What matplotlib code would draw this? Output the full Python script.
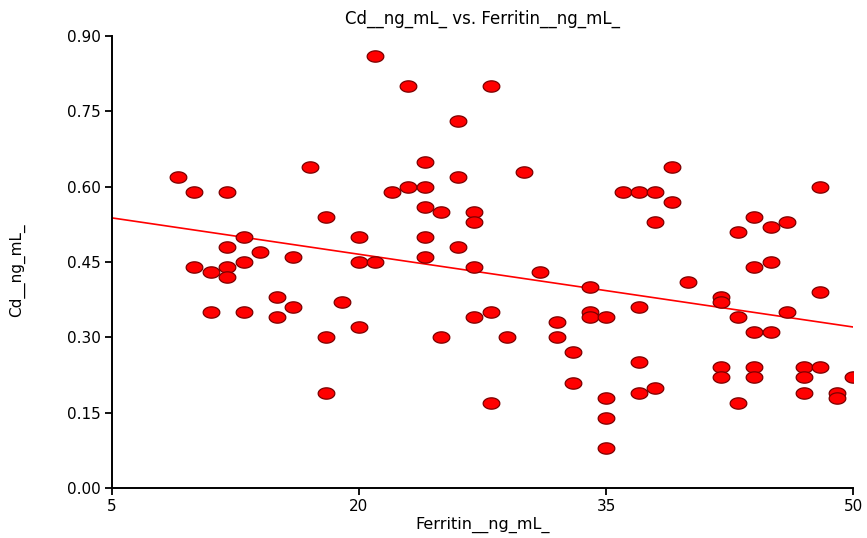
import matplotlib
matplotlib.use("Agg")
import matplotlib.pyplot as plt
import numpy as np

# Ferritin (ng/mL) vs Cd (ng/mL) readings.
ferritin = [
    9, 10, 12, 17, 18, 10, 11, 12, 12, 12, 13, 13, 14, 11, 13, 15, 15, 16, 16,
    18, 18, 19, 20, 20, 20, 21, 21, 22, 23, 23, 24, 24, 24, 24, 24, 25, 25,
    26, 26, 26, 27, 27, 27, 27, 28, 28, 28, 29, 30, 31, 32, 32, 33, 33, 34,
    34, 34, 35, 35, 35, 35, 36, 37, 37, 37, 37, 38, 38, 38, 39, 39, 40, 42,
    42, 42, 42, 43, 43, 43, 44, 44, 44, 44, 44, 45, 45, 45, 46, 46, 47, 47,
    47, 48, 48, 48, 49, 49, 50,
]
cd = [
    0.62, 0.59, 0.59, 0.64, 0.54, 0.44, 0.43, 0.48, 0.44, 0.42, 0.50, 0.45,
    0.47, 0.35, 0.35, 0.38, 0.34, 0.46, 0.36, 0.30, 0.19, 0.37, 0.50, 0.45,
    0.32, 0.86, 0.45, 0.59, 0.80, 0.60, 0.65, 0.60, 0.56, 0.50, 0.46, 0.55,
    0.30, 0.73, 0.62, 0.48, 0.55, 0.53, 0.44, 0.34, 0.80, 0.35, 0.17, 0.30,
    0.63, 0.43, 0.33, 0.30, 0.27, 0.21, 0.40, 0.35, 0.34, 0.34, 0.18, 0.14,
    0.08, 0.59, 0.59, 0.36, 0.25, 0.19, 0.59, 0.53, 0.20, 0.64, 0.57, 0.41,
    0.38, 0.37, 0.24, 0.22, 0.51, 0.34, 0.17, 0.54, 0.44, 0.31, 0.24, 0.22,
    0.52, 0.45, 0.31, 0.53, 0.35, 0.24, 0.22, 0.19, 0.60, 0.39, 0.24, 0.19,
    0.18, 0.22,
]
x_ticks = [5, 20, 35, 50]
y_ticks = [0.00, 0.15, 0.30, 0.45, 0.60, 0.75, 0.90]

plt.rcParams["font.family"] = ["DejaVu Sans"]

fig = plt.figure(figsize=(8.67, 5.38), dpi=100)
ax = fig.add_axes([0.129, 0.093, 0.855, 0.840])

# ellipse-shaped marker, wider than tall
t = np.linspace(0, 2 * np.pi, 60)
ellipse = list(zip(np.cos(t), 0.68 * np.sin(t)))

ax.plot(ferritin, cd, linestyle="none", marker=ellipse, markersize=12,
        markerfacecolor="#ff0000", markeredgecolor="#7a0000",
        markeredgewidth=0.9, zorder=3)

# least-squares fit line across the full x range
slope, intercept = np.polyfit(ferritin, cd, 1)
xs = np.array([x_ticks[0], x_ticks[-1]])
ax.plot(xs, slope * xs + intercept, color="#ff0000", linewidth=1.2, zorder=2)

ax.set_xlim(x_ticks[0], x_ticks[-1])
ax.set_ylim(y_ticks[0], y_ticks[-1])
ax.set_xticks(x_ticks)
ax.set_yticks(y_ticks)
ax.set_yticklabels([f"{v:.2f}" for v in y_ticks])
ax.tick_params(direction="out", length=5, width=1.3, labelsize=11,
               colors="black", pad=3)

for side in ("top", "right"):
    ax.spines[side].set_visible(False)
for side in ("left", "bottom"):
    ax.spines[side].set_linewidth(1.4)

ax.set_title("Cd__ng_mL_ vs. Ferritin__ng_mL_", fontsize=12, pad=9)
ax.set_xlabel("Ferritin__ng_mL_", fontsize=11.5)
ax.xaxis.set_label_coords(0.5, -0.064)
ax.set_ylabel("Cd__ng_mL_", fontsize=11)
ax.yaxis.set_label_coords(-0.117, 0.482)

fig.savefig("out.png", dpi=100)
plt.close(fig)
